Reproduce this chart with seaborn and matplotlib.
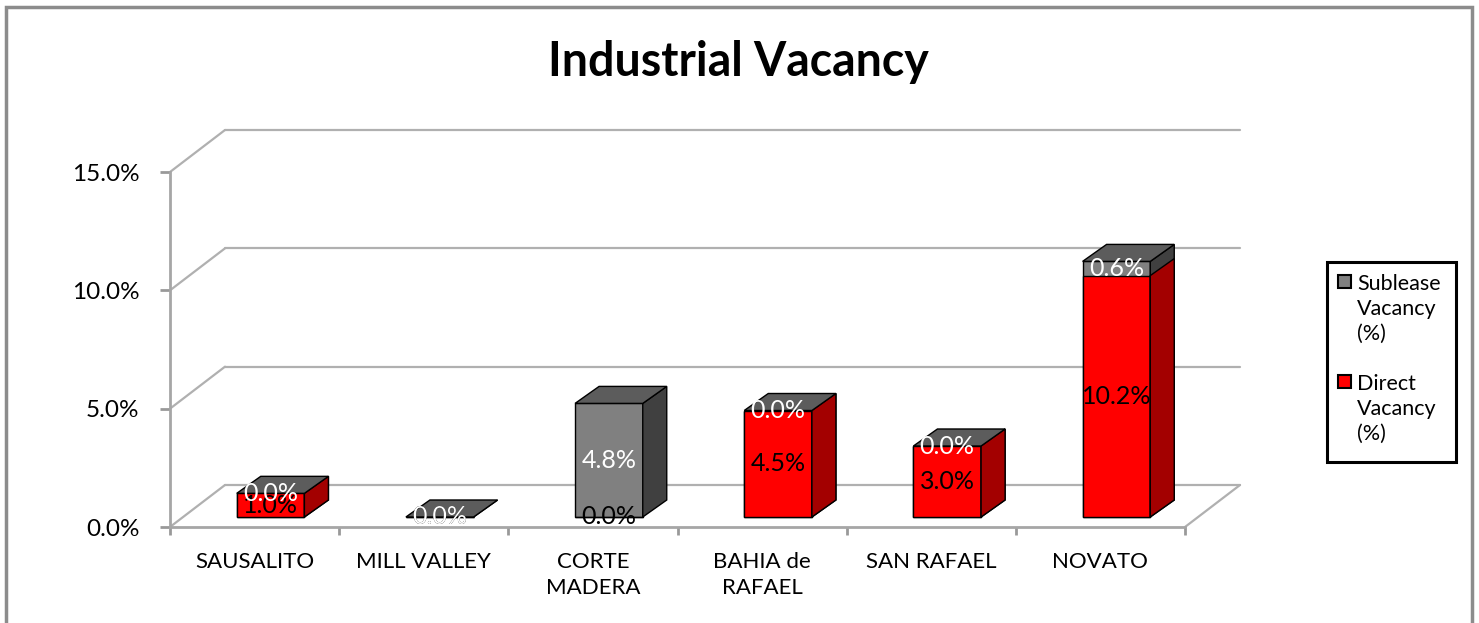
import matplotlib as mpl
import matplotlib.pyplot as plt
from matplotlib.patches import Polygon, Rectangle
import seaborn as sns
import pandas as pd
import numpy as np

cities = ['SAUSALITO', 'MILL VALLEY', 'CORTE\nMADERA', 'BAHIA de\nRAFAEL', 'SAN RAFAEL', 'NOVATO']
direct = [1.0, 0.0, 0.0, 4.5, 3.0, 10.2]
sublease = [0.0, 0.0, 4.8, 0.0, 0.0, 0.6]
yticks = [0, 5, 10, 15]
legend_labels = ['Sublease\nVacancy\n(%)', 'Direct\nVacancy\n(%)']

sns.set_style('white')
plt.rcParams['font.family'] = ['Lato', 'DejaVu Sans']
plt.rcParams['text.color'] = 'black'
plt.rcParams['xtick.labelcolor'] = 'black'
plt.rcParams['ytick.labelcolor'] = 'black'

df = pd.DataFrame({'City': cities, 'Direct': direct, 'Sublease': sublease})
df['Total'] = df['Direct'] + df['Sublease']

W, H = 1479, 623
fig = plt.figure(figsize=(W / 100, H / 100), dpi=100)
ax = fig.add_axes([170 / W, 96 / H, 1015 / W, 355 / H])

# pixel sizes -> data units (x: 169.2 px per category, y: 23.67 px per %)
def px(dx, dy):
    return dx / (1015 / 6), dy / (355 / 15)

WX, WY = px(55, 42)     # depth of the floor / back wall
FX, FY = px(16, 10)     # bars sit a bit behind the front edge
DX, DY = px(24, 17)     # depth of each bar

grid_kw = dict(color='#b0b0b0', lw=1.6, zorder=0.5, clip_on=False)
for t in yticks:
    ax.plot([-0.5 + WX, 5.5 + WX], [t + WY, t + WY], **grid_kw)
    ax.plot([-0.5, -0.5 + WX], [t, t + WY], **grid_kw)
ax.plot([5.5, 5.5 + WX], [0, WY], **grid_kw)

gray, gray_side, gray_top = '#808080', '#404040', '#5c5c5c'
red, red_side = '#ff0000', '#a30000'

sns.barplot(data=df, x='City', y='Total', color=gray, saturation=1, width=0.4,
            edgecolor='black', linewidth=1, errorbar=None, ax=ax, zorder=2)
sns.barplot(data=df, x='City', y='Direct', color=red, saturation=1, width=0.4,
            edgecolor='black', linewidth=1, errorbar=None, ax=ax, zorder=3)

tot_bars, dir_bars = ax.containers[0], ax.containers[1]
for p in list(tot_bars) + list(dir_bars):
    p.set_x(p.get_x() + FX)
    p.set_y(p.get_y() + FY)
    p.set_clip_on(False)

def side(p, color, z):
    x1 = p.get_x() + p.get_width()
    y0, y1 = p.get_y(), p.get_y() + p.get_height()
    ax.add_patch(Polygon([(x1, y0), (x1, y1), (x1 + DX, y1 + DY), (x1 + DX, y0 + DY)],
                         closed=True, facecolor=color, edgecolor='black', lw=1,
                         zorder=z, clip_on=False))

for pt, pd_ in zip(tot_bars, dir_bars):
    side(pt, gray_side, 4)
    if pd_.get_height() > 0:
        side(pd_, red_side, 5)
    x0, w = pt.get_x(), pt.get_width()
    yt = pt.get_y() + pt.get_height()
    ax.add_patch(Polygon([(x0, yt), (x0 + w, yt), (x0 + w + DX, yt + DY), (x0 + DX, yt + DY)],
                         closed=True, facecolor=gray_top, edgecolor='black', lw=1,
                         zorder=6, clip_on=False))

# value labels
for i in range(len(cities)):
    ax.text(i + FX, direct[i] / 2 + FY, f'{direct[i]:.1f}%', ha='center', va='center',
            fontsize=18, color='black', zorder=7, clip_on=False)
    ax.text(i + FX, direct[i] + sublease[i] / 2 + FY, f'{sublease[i]:.1f}%', ha='center',
            va='center', fontsize=18, color='white', zorder=8, clip_on=False)

ax.set_xlim(-0.5, 5.5)
ax.set_ylim(0, 15)
ax.set_yticks(yticks)
ax.set_yticklabels([f'{t:.1f}%' for t in yticks], fontsize=17.5)
ax.set_xticks(range(len(cities)))
ax.set_xticklabels(cities, fontsize=16, linespacing=1.4, va='top')
ax.set_xticks(np.arange(-0.5, 6, 1), minor=True)
ax.set_xlabel('')
ax.set_ylabel('')
ax.tick_params(axis='y', direction='out', length=7, width=2, color='#999999', pad=15, left=True)
ax.tick_params(axis='x', which='major', length=0, pad=18)
ax.tick_params(axis='x', which='minor', direction='out', length=6, width=2, color='#999999', bottom=True)
for s in ['top', 'right']:
    ax.spines[s].set_visible(False)
for s in ['left', 'bottom']:
    ax.spines[s].set_color('#a6a6a6')
    ax.spines[s].set_linewidth(2)
ax.patch.set_alpha(0)

fig.text(738 / W, 1 - 62 / H, 'Industrial Vacancy', ha='center', va='center',
         fontsize=33.5, fontweight='bold')

# legend box, drawn by hand so the swatch sits beside the first text line
fig.add_artist(Rectangle((1327 / W, 1 - 462 / H), 129 / W, 200 / H,
                         transform=fig.transFigure, fill=False, edgecolor='black', lw=2.2))
for k, (col, lab) in enumerate(zip([gray, red], legend_labels)):
    top = 275 + 100 * k
    fig.add_artist(Rectangle((1338 / W, 1 - (top + 13) / H), 13 / W, 13 / H,
                             transform=fig.transFigure, facecolor=col,
                             edgecolor='black', lw=1.5))
    fig.text(1357 / W, 1 - (top + 34) / H, lab, ha='left', va='center',
             fontsize=15.5, linespacing=1.3)

fig.add_artist(Rectangle((5.5 / W, -0.05), (1472 - 5.5) / W, 1.05 - 7 / H,
                         transform=fig.transFigure, fill=False,
                         edgecolor='#8c8c8c', lw=2.5))

fig.savefig('out.png', dpi=100)
